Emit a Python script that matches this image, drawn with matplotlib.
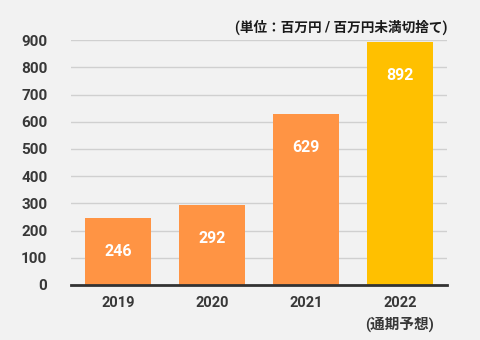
import matplotlib.pyplot as plt

plt.rcParams['font.family'] = ['Roboto', 'Noto Sans CJK JP', 'DejaVu Sans']

# Data
years = ['2019', '2020', '2021', '2022\n(通期予想)']
sales = [246, 292, 629, 892]
colors = ['#FF9444', '#FF9444', '#FF9444', '#FFC000']
yticks = [0, 100, 200, 300, 400, 500, 600, 700, 800, 900]

fig = plt.figure(figsize=(4.8, 3.4), dpi=100)
fig.patch.set_facecolor('#F2F2F2')
ax = fig.add_axes([0.148, 0.162, 0.783, 0.720])
ax.set_facecolor('#F2F2F2')

x = range(len(years))
bars = ax.bar(x, sales, width=0.70, color=colors, zorder=3)

for xi, v in zip(x, sales):
    ax.annotate(str(v), (xi, v), xytext=(0, -24), textcoords='offset points',
                ha='center', va='center', color='white', fontsize=11.5,
                fontweight='bold', zorder=4)

ax.set_xlim(-0.5, 3.5)
ax.set_ylim(0, 900)
ax.set_yticks(yticks)
ax.set_xticks(list(x))
ax.set_xticklabels(years, linespacing=1.5)
ax.grid(axis='y', color='#D0D0D0', linewidth=1, zorder=0)
ax.tick_params(length=0, labelcolor='#383838', labelsize=11)
ax.tick_params(axis='y', pad=17)
ax.tick_params(axis='x', pad=8, labelsize=10.5)
for lab in ax.get_xticklabels() + ax.get_yticklabels():
    lab.set_fontweight('bold')

for s in ['top', 'right', 'left']:
    ax.spines[s].set_visible(False)
ax.spines['bottom'].set_color('#333333')
ax.spines['bottom'].set_linewidth(2)
ax.spines['bottom'].set_zorder(5)

fig.text(0.933, 0.92, '(単位：百万円 / 百万円未満切捨て)', ha='right', va='center',
         fontsize=9.8, color='#1A1A1A', fontweight='bold')

fig.savefig('out.png', dpi=100, facecolor=fig.get_facecolor())
